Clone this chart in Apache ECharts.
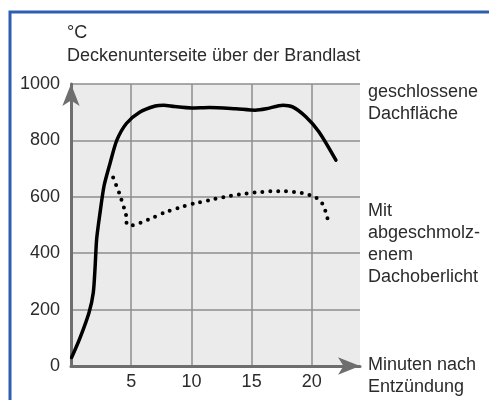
<!DOCTYPE html>
<html>
<head>
<meta charset="utf-8">
<script src="https://cdn.jsdelivr.net/npm/echarts@6/dist/echarts.min.js"></script>
<style>
  html, body { margin: 0; padding: 0; background: #fff; }
  #chart { width: 489px; height: 400px; }
</style>
</head>
<body>
<div id="chart"></div>
<script>
// temperature at ceiling underside above the fire load (°C over minutes)
const closedRoof = [
  [0.05, 30], [0.75, 100], [1.5, 190], [1.85, 260], [2.0, 350], [2.13, 450],
  [2.4, 540], [2.75, 640], [3.25, 720], [3.8, 800], [4.6, 860], [5.7, 900],
  [7.0, 922], [7.7, 925], [8.6, 920], [10, 915], [11.5, 917], [13.7, 912],
  [15.3, 907], [16.2, 912], [17.6, 925], [18.4, 919], [19.5, 884], [20.6, 830], [22.0, 730]
]
const meltedSkylight = [
  [3.5, 668], [4.0, 614], [4.4, 561], [4.6, 530], [4.62, 503], [5.1, 499],
  [6.4, 519], [7.7, 543], [9.0, 562], [10.2, 576], [11.6, 589], [12.9, 601],
  [14.2, 610], [15.5, 616], [16.8, 620], [17.5, 620], [18.8, 616], [19.5, 610],
  [20.15, 602], [20.7, 586], [21.05, 563], [21.2, 535], [21.45, 508]
]
const yTicks = [0, 200, 400, 600, 800, 1000]
const xTicks = [0, 5, 10, 15, 20]
const titleLines = ['°C', 'Deckenunterseite über der Brandlast']
const closedLabel = ['geschlossene', 'Dachfläche']
const meltedLabel = ['Mit', 'abgeschmolz-', 'enem', 'Dachoberlicht']
const xName = ['Minuten nach', 'Entzündung']

const font = '"Liberation Sans", Arial, sans-serif'
const textColor = '#2b2b2b'
const axisColor = '#6e6e6e'
const gridColor = '#8e8e8e'

const chart = echarts.init(document.getElementById('chart'))

// lines of free text, y is the middle of the first line
function textBlock(lines, x, y0, lh) {
  return lines.map((t, i) => ({
    type: 'text',
    x: x,
    y: y0 + i * lh,
    style: { text: t, font: '18px ' + font, fill: textColor, textVerticalAlign: 'middle' }
  }))
}

const option = {
  animation: false,
  grid: {
    left: 71, top: 84, right: 129, bottom: 34,
    show: true, backgroundColor: '#ebebeb', borderWidth: 0,
    outerBoundsMode: 'none'
  },
  xAxis: {
    type: 'value',
    min: 0, max: 24, interval: 5,
    axisLine: {
      show: true, symbol: ['none', 'arrow'], symbolSize: [13, 22],
      lineStyle: { color: axisColor, width: 3 }
    },
    axisTick: { show: false },
    axisLabel: {
      showMinLabel: false, showMaxLabel: false, margin: 7,
      color: textColor, fontSize: 18, fontFamily: font,
      formatter: (v) => (xTicks.includes(v) ? String(v) : '')
    },
    splitLine: {
      show: true,
      lineStyle: { color: [gridColor, gridColor, gridColor, gridColor, gridColor, 'rgba(0,0,0,0)'], width: 1.5 }
    }
  },
  yAxis: {
    type: 'value',
    min: 0, max: 1000, interval: 200,
    axisLine: {
      show: true, symbol: ['none', 'arrow'], symbolSize: [13, 22],
      lineStyle: { color: axisColor, width: 3 }
    },
    axisTick: { show: false },
    axisLabel: {
      margin: 11, color: textColor, fontSize: 18, fontFamily: font,
      formatter: (v) => (yTicks.includes(v) ? String(v) : '')
    },
    splitLine: { show: true, lineStyle: { color: gridColor, width: 1.5 } }
  },
  series: [
    {
      type: 'line',
      data: closedRoof,
      smooth: 0.25,
      symbol: 'none',
      lineStyle: { color: '#000', width: 3.5, cap: 'round' },
      z: 3
    },
    {
      type: 'line',
      data: meltedSkylight,
      smooth: 0.15,
      symbol: 'none',
      lineStyle: { color: '#000', width: 4, type: [0, 7.9], cap: 'round' },
      z: 3
    }
  ],
  graphic: [
    {
      type: 'rect',
      shape: { x: 10, y: 12, width: 700, height: 700 },
      style: { fill: 'none', stroke: '#2f5db0', lineWidth: 3 },
      silent: true
    },
    ...textBlock(titleLines, 67, 33.5, 23),
    ...textBlock(closedLabel, 368, 92, 22.5),
    ...textBlock(meltedLabel, 368, 211.5, 21.7),
    ...textBlock(xName, 368, 365, 22)
  ]
}

chart.setOption(option)
</script>
</body>
</html>
